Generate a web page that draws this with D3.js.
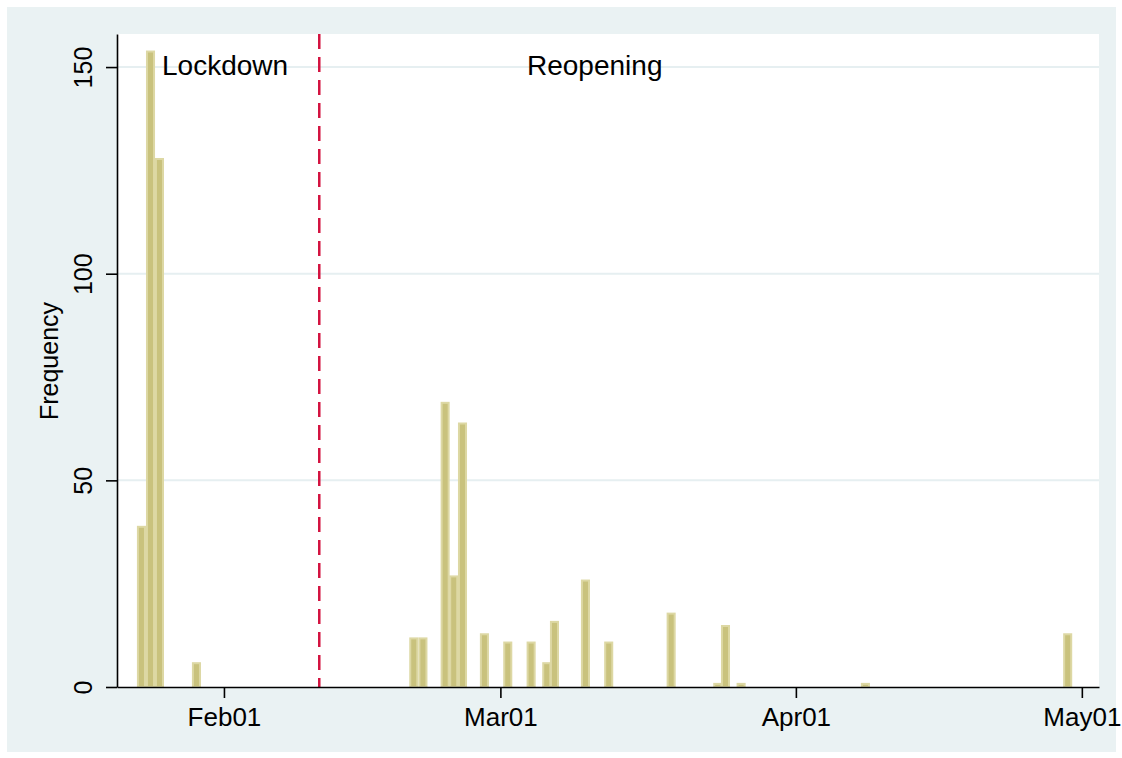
<!DOCTYPE html>
<html>
<head>
<meta charset="utf-8">
<script src="https://cdn.jsdelivr.net/npm/d3@7"></script>
<style>
  body { margin: 0; background: #ffffff; }
  text { font-family: "Liberation Sans", Arial, sans-serif; }
</style>
</head>
<body>
<div id="wrapper"></div>
<script>
// bar start, in days after Feb01 2020, and frequency
const barStart = [-9.13, -8.18, -7.24, -3.36, 19.44, 20.4, 22.73, 23.63, 24.55,
  26.85, 29.3, 31.75, 33.39, 34.2, 37.45, 39.89, 46.44, 51.33, 52.14, 53.78,
  66.82, 88.04];
const barFreq = [39, 154, 128, 6, 12, 12, 69, 27, 64, 13, 11, 11, 6, 16, 26, 11,
  18, 1, 15, 1, 1, 13];
const barWidthDays = 0.95;

const xTickDates = ["2020-02-01", "2020-03-01", "2020-04-01", "2020-05-01"];
const yTicks = [0, 50, 100, 150];
const lockdownEnd = "2020-02-11";
const phaseLabels = ["Lockdown", "Reopening"];

const dimensions = {
  width: 1122,
  height: 758,
  margin: { top: 34, right: 23, bottom: 71, left: 117 },
};
dimensions.boundedWidth =
  dimensions.width - dimensions.margin.left - dimensions.margin.right;
dimensions.boundedHeight =
  dimensions.height - dimensions.margin.top - dimensions.margin.bottom;

const feb01 = new Date(Date.UTC(2020, 1, 1));
const dayMs = 86400000;
const toDate = (d) => new Date(feb01.getTime() + d * dayMs);
const parse = d3.utcParse("%Y-%m-%d");

const svg = d3
  .select("#wrapper")
  .append("svg")
  .attr("width", dimensions.width)
  .attr("height", dimensions.height);

// outer Stata background
svg
  .append("rect")
  .attr("x", 7)
  .attr("y", 7)
  .attr("width", 1109)
  .attr("height", 745)
  .attr("fill", "#eaf2f3");

const bounds = svg
  .append("g")
  .attr(
    "transform",
    `translate(${dimensions.margin.left},${dimensions.margin.top})`
  );

bounds
  .append("rect")
  .attr("width", dimensions.boundedWidth)
  .attr("height", dimensions.boundedHeight)
  .attr("fill", "#ffffff");

const xScale = d3
  .scaleUtc()
  .domain([toDate(-11.22), toDate(91.8)])
  .range([0, dimensions.boundedWidth]);

const yScale = d3
  .scaleLinear()
  .domain([0, 158])
  .range([dimensions.boundedHeight, 0]);

// gridlines
bounds
  .selectAll(".grid")
  .data(yTicks.filter((d) => d > 0))
  .enter()
  .append("line")
  .attr("x1", 0)
  .attr("x2", dimensions.boundedWidth)
  .attr("y1", (d) => yScale(d))
  .attr("y2", (d) => yScale(d))
  .attr("stroke", "#e6eff1")
  .attr("stroke-width", 2);

// bars
const bars = barStart.map((s, i) => ({ start: s, freq: barFreq[i] }));
bounds
  .selectAll(".bar")
  .data(bars)
  .enter()
  .append("rect")
  .attr("class", "bar")
  .attr("x", (d) => xScale(toDate(d.start)) + 1)
  .attr("y", (d) => yScale(d.freq) + 1)
  .attr(
    "width",
    (d) => xScale(toDate(d.start + barWidthDays)) - xScale(toDate(d.start)) - 2
  )
  .attr("height", (d) => yScale(0) - yScale(d.freq) - 1)
  .attr("fill", "#c9c27d")
  .attr("stroke", "#ddd8a4")
  .attr("stroke-width", 2);

// lockdown line
const xLock = xScale(parse(lockdownEnd));
bounds
  .append("line")
  .attr("x1", xLock)
  .attr("x2", xLock)
  .attr("y1", 0)
  .attr("y2", dimensions.boundedHeight)
  .attr("stroke", "#d3123f")
  .attr("stroke-width", 2.5)
  .style("stroke-dasharray", "15 8");

// labels
bounds
  .append("text")
  .attr("x", 45)
  .attr("y", 41)
  .style("font-size", "28px")
  .attr("fill", "#000")
  .text(phaseLabels[0]);

bounds
  .append("text")
  .attr("x", 410)
  .attr("y", 41)
  .style("font-size", "28px")
  .attr("fill", "#000")
  .text(phaseLabels[1]);

// axes
const xAxis = bounds
  .append("g")
  .attr("transform", `translate(0,${dimensions.boundedHeight})`)
  .call(
    d3
      .axisBottom(xScale)
      .tickValues(xTickDates.map(parse))
      .tickFormat(d3.utcFormat("%b%d"))
      .tickSize(11)
      .tickPadding(8)
      .tickSizeOuter(0)
  );
xAxis.select(".domain").attr("stroke", "#000").attr("stroke-width", 1.6);
xAxis.selectAll(".tick line").attr("stroke", "#000").attr("stroke-width", 1.6);
xAxis
  .selectAll(".tick text")
  .attr("fill", "#000")
  .style("font-size", "26px")
  .attr("dy", "0.75em");

const yAxis = bounds.append("g").call(
  d3.axisLeft(yScale).tickValues(yTicks).tickSize(11).tickSizeOuter(0)
);
yAxis.select(".domain").attr("stroke", "#000").attr("stroke-width", 1.6);
yAxis.selectAll(".tick line").attr("stroke", "#000").attr("stroke-width", 1.6);
yAxis
  .selectAll(".tick text")
  .attr("fill", "#000")
  .attr("transform", "rotate(-90)")
  .attr("x", 0)
  .attr("y", -25)
  .attr("dy", 0)
  .style("text-anchor", "middle")
  .style("font-size", "25px");

svg
  .append("text")
  .attr("transform", "translate(58,361) rotate(-90)")
  .style("text-anchor", "middle")
  .style("font-size", "25px")
  .attr("fill", "#000")
  .text("Frequency");
</script>
</body>
</html>
